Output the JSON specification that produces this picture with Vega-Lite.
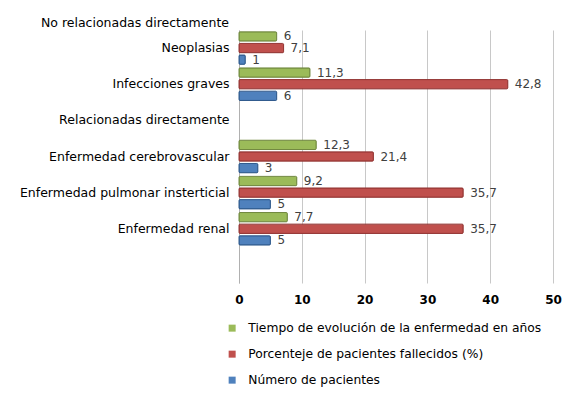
{
  "$schema": "https://vega.github.io/schema/vega-lite/v6.json",
  "width": 314,
  "height": 253,
  "autosize": {"type": "none"},
  "padding": {"left": 239, "top": 30, "right": 27, "bottom": 111},
  "background": "white",
  "title": {
    "text": "No relacionadas directamente",
    "anchor": "start",
    "frame": "group",
    "align": "right",
    "dx": -10,
    "offset": 1,
    "font": "DejaVu Sans",
    "fontSize": 12.5,
    "fontWeight": "normal",
    "color": "#000000"
  },
  "config": {
    "locale": {"number": {"decimal": ",", "thousands": ".", "grouping": [3], "currency": ["", " €"]}},
    "view": {"stroke": null},
    "font": "DejaVu Sans"
  },
  "data": {
    "values": [
      {"cat": "Neoplasias", "serie": "Tiempo de evolución de la enfermedad en años", "valor": 6},
      {"cat": "Neoplasias", "serie": "Porcenteje de pacientes fallecidos (%)", "valor": 7.1},
      {"cat": "Neoplasias", "serie": "Número de pacientes", "valor": 1},
      {"cat": "Infecciones graves", "serie": "Tiempo de evolución de la enfermedad en años", "valor": 11.3},
      {"cat": "Infecciones graves", "serie": "Porcenteje de pacientes fallecidos (%)", "valor": 42.8},
      {"cat": "Infecciones graves", "serie": "Número de pacientes", "valor": 6},
      {"cat": "Enfermedad cerebrovascular", "serie": "Tiempo de evolución de la enfermedad en años", "valor": 12.3},
      {"cat": "Enfermedad cerebrovascular", "serie": "Porcenteje de pacientes fallecidos (%)", "valor": 21.4},
      {"cat": "Enfermedad cerebrovascular", "serie": "Número de pacientes", "valor": 3},
      {"cat": "Enfermedad pulmonar insterticial", "serie": "Tiempo de evolución de la enfermedad en años", "valor": 9.2},
      {"cat": "Enfermedad pulmonar insterticial", "serie": "Porcenteje de pacientes fallecidos (%)", "valor": 35.7},
      {"cat": "Enfermedad pulmonar insterticial", "serie": "Número de pacientes", "valor": 5},
      {"cat": "Enfermedad renal", "serie": "Tiempo de evolución de la enfermedad en años", "valor": 7.7},
      {"cat": "Enfermedad renal", "serie": "Porcenteje de pacientes fallecidos (%)", "valor": 35.7},
      {"cat": "Enfermedad renal", "serie": "Número de pacientes", "valor": 5}
    ]
  },
  "encoding": {
    "y": {
      "field": "cat",
      "type": "nominal",
      "scale": {
        "domain": ["Neoplasias", "Infecciones graves", "Relacionadas directamente", "Enfermedad cerebrovascular", "Enfermedad pulmonar insterticial", "Enfermedad renal", " "],
        "paddingInner": 0.1,
        "paddingOuter": 0.05
      },
      "axis": {
        "title": null,
        "ticks": false,
        "domain": true,
        "domainColor": "#b0b0b0",
        "labelFontSize": 12.5,
        "labelColor": "#000000",
        "labelPadding": 10,
        "labelFont": "DejaVu Sans",
        "labelLimit": 300
      }
    },
    "yOffset": {
      "field": "serie",
      "type": "nominal",
      "scale": {
        "domain": ["Tiempo de evolución de la enfermedad en años", "Porcenteje de pacientes fallecidos (%)", "Número de pacientes"],
        "paddingInner": 0.2
      }
    },
    "x": {
      "field": "valor",
      "type": "quantitative",
      "scale": {"domain": [0, 50], "nice": false},
      "axis": {
        "title": null,
        "values": [0, 10, 20, 30, 40, 50],
        "ticks": false,
        "domain": false,
        "grid": true,
        "gridColor": "#c8c8c8",
        "gridWidth": 1,
        "labelFlush": false,
        "labelFontSize": 12,
        "labelFontWeight": "bold",
        "labelColor": "#000000",
        "labelPadding": 11,
        "labelFont": "DejaVu Sans"
      }
    }
  },
  "layer": [
    {
      "mark": {"type": "bar", "strokeWidth": 1, "cornerRadius": 1},
      "encoding": {
        "color": {
          "field": "serie",
          "type": "nominal",
          "scale": {
            "domain": ["Tiempo de evolución de la enfermedad en años", "Porcenteje de pacientes fallecidos (%)", "Número de pacientes"],
            "range": ["#9bbb59", "#c0504d", "#4f81bd"]
          },
          "legend": {
            "title": null,
            "orient": "none",
            "legendX": -13,
            "legendY": 292,
            "direction": "vertical",
            "symbolType": "square",
            "symbolSize": 49,
            "symbolStrokeWidth": 0,
            "labelFontSize": 12.3,
            "labelColor": "#000000",
            "labelFont": "DejaVu Sans",
            "labelLimit": 400,
            "labelOffset": 10,
            "rowPadding": 13,
            "padding": 0
          }
        },
        "stroke": {
          "field": "serie",
          "type": "nominal",
          "scale": {
            "domain": ["Tiempo de evolución de la enfermedad en años", "Porcenteje de pacientes fallecidos (%)", "Número de pacientes"],
            "range": ["#71893f", "#943634", "#2f5a8d"]
          },
          "legend": null
        }
      }
    },
    {
      "mark": {"type": "text", "align": "left", "baseline": "middle", "dx": 7, "fontSize": 12, "color": "#404040", "font": "DejaVu Sans"},
      "encoding": {
        "text": {"field": "valor", "type": "quantitative", "format": "~g"}
      }
    }
  ]
}
